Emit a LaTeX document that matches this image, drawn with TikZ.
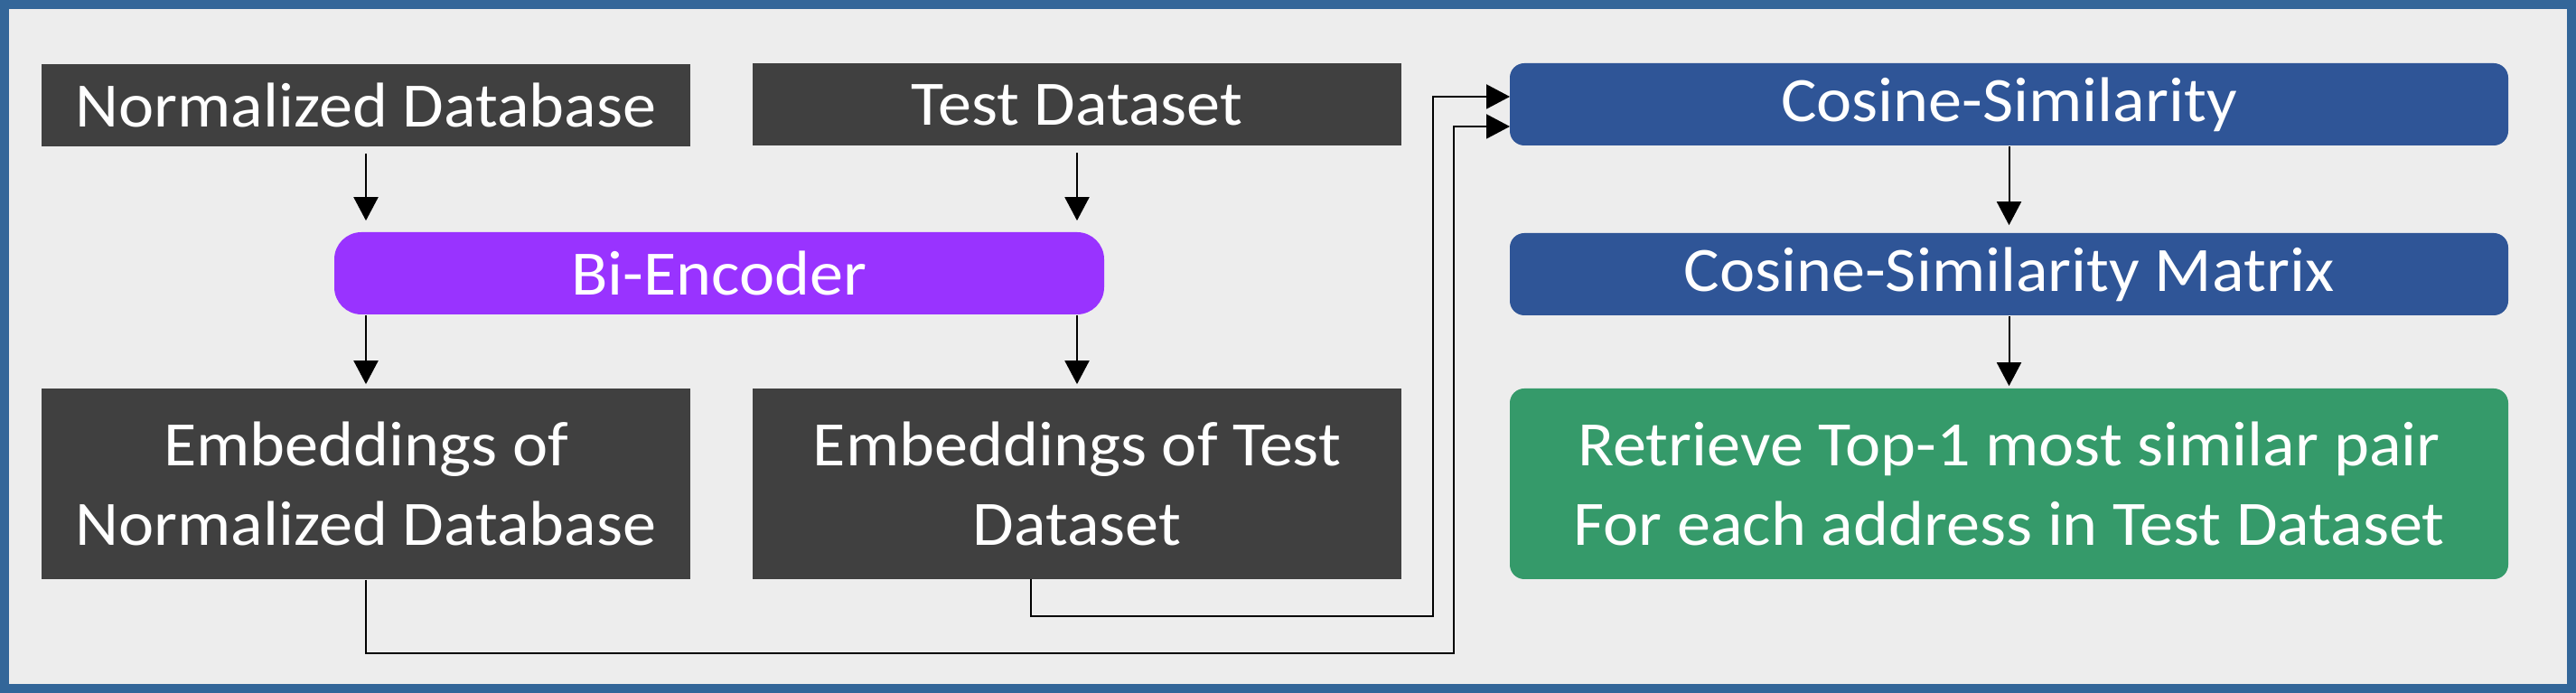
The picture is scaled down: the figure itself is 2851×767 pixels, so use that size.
\documentclass[tikz,border=0pt]{standalone}
\usepackage{fontspec}
\setmainfont{Carlito}[FakeStretch=1.06]
\usetikzlibrary{arrows.meta}
\definecolor{frameblue}{HTML}{336699}
\definecolor{bggrey}{HTML}{EDEDED}
\definecolor{darkbox}{HTML}{404040}
\definecolor{purplebox}{HTML}{9933FF}
\definecolor{bluebox}{HTML}{2F5597}
\definecolor{greenbox}{HTML}{359A6A}
\tikzset{
  box/.style={inner sep=0pt, text=white, align=center,
    font=\fontsize{17.5pt}{22pt}\selectfont},
  darkstyle/.style={box, fill=darkbox, minimum width=179.5pt},
  shorthbox/.style={minimum height=22.75pt},
  tallbox/.style={minimum height=52.75pt},
  roundbox/.style={box, rounded corners=4pt, minimum width=276.25pt},
  conn/.style={line width=0.5pt, -{Triangle[length=6.5pt,width=6.75pt]}},
}
\begin{document}
\begin{tikzpicture}[x=0.25pt,y=-0.25pt]
\useasboundingbox (0,0) rectangle (2851,767);
\fill[frameblue] (0,0) rectangle (2851,767);
\fill[bggrey] (10,10) rectangle (2841,757);

\node[darkstyle, shorthbox] (norm) at (405,116.5) {Normalized Database};
\node[darkstyle, shorthbox] (test) at (1192,116) {Test Dataset};
\node[box, fill=purplebox, rounded corners=7.5pt, minimum width=213pt, minimum height=22.75pt] (bi) at (796,302.5) {Bi-Encoder};
\node[darkstyle, tallbox] (embn) at (405,535.5) {Embeddings of\\Normalized Database};
\node[darkstyle, tallbox] (embt) at (1192,535.5) {Embeddings of Test\\Dataset};
\node[roundbox, fill=bluebox, shorthbox] (cos) at (2223.5,115.5) {Cosine-Similarity};
\node[roundbox, fill=bluebox, shorthbox] (mat) at (2223.5,303.5) {Cosine-Similarity Matrix};
\node[roundbox, fill=greenbox, tallbox] (ret) at (2223.5,535.5) {Retrieve Top-1 most similar pair\\For each address in Test Dataset};

\draw[conn, shorten <=1.75pt, shorten >=3pt] (norm.south) -- (norm.south |- bi.north);
\draw[conn, shorten <=1.75pt, shorten >=3pt] (test.south) -- (test.south |- bi.north);
\draw[conn, shorten >=1pt] (embn.north |- bi.south) -- (embn.north);
\draw[conn, shorten >=1pt] (embt.north |- bi.south) -- (embt.north);
\draw[conn, shorten >=2pt] (cos.south) -- (mat.north);
\draw[conn, shorten >=0.5pt] (mat.south) -- (ret.north);

\coordinate (tbend) at (1586,682);
\coordinate (nbend) at (1609,723);
\coordinate (tin) at (1671,107);
\coordinate (nin) at (1671,140);
\coordinate (tout) at (1141,641);
\draw[conn] (tout) |- (tbend) |- (tin);
\draw[conn] (embn.south) |- (nbend) |- (nin);
\end{tikzpicture}
\end{document}
